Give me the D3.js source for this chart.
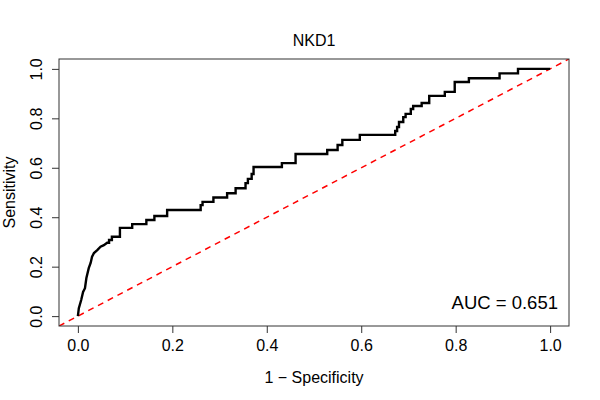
<!DOCTYPE html>
<html>
<head>
    <title>NKD1 ROC</title>
    <script src="https://d3js.org/d3.v7.min.js"></script>
    <style>
        body { margin: 0; background: #fff; }
        svg text { font-family: "Liberation Sans", Arial, sans-serif; }
    </style>
</head>
<body>
    <div id="chart"></div>

    <script>
        // ROC curve vertices
        const fpr = [0, 0.002, 0.007, 0.011, 0.015, 0.018, 0.023, 0.027, 0.030, 0.034, 0.041, 0.048, 0.055, 0.062,
            0.066, 0.066, 0.072, 0.072, 0.089, 0.089, 0.115, 0.115, 0.145, 0.145, 0.162, 0.162, 0.189, 0.189,
            0.260, 0.260, 0.264, 0.264, 0.287, 0.287, 0.316, 0.316, 0.334, 0.334, 0.355, 0.355, 0.360, 0.360,
            0.368, 0.368, 0.372, 0.372, 0.432, 0.432, 0.461, 0.461, 0.528, 0.528, 0.550, 0.550, 0.560, 0.560,
            0.597, 0.597, 0.672, 0.672, 0.676, 0.676, 0.680, 0.680, 0.689, 0.689, 0.694, 0.694, 0.705, 0.705,
            0.710, 0.710, 0.728, 0.728, 0.744, 0.744, 0.777, 0.777, 0.798, 0.798, 0.828, 0.828, 0.893, 0.893,
            0.932, 0.932, 1.0];
        const tpr = [0, 0.032, 0.065, 0.098, 0.113, 0.154, 0.194, 0.215, 0.240, 0.255, 0.267, 0.281, 0.287, 0.297,
            0.297, 0.308, 0.308, 0.321, 0.321, 0.357, 0.357, 0.372, 0.372, 0.389, 0.389, 0.405, 0.405, 0.429,
            0.429, 0.449, 0.449, 0.462, 0.462, 0.480, 0.480, 0.497, 0.497, 0.517, 0.517, 0.538, 0.538, 0.555,
            0.555, 0.575, 0.575, 0.603, 0.603, 0.619, 0.619, 0.656, 0.656, 0.672, 0.672, 0.692, 0.692, 0.713,
            0.713, 0.733, 0.733, 0.749, 0.749, 0.765, 0.765, 0.785, 0.785, 0.805, 0.805, 0.818, 0.818, 0.838,
            0.838, 0.850, 0.850, 0.862, 0.862, 0.891, 0.891, 0.907, 0.907, 0.947, 0.947, 0.962, 0.962, 0.982,
            0.982, 1.0, 1.0];
        const ticks = [0, 0.2, 0.4, 0.6, 0.8, 1.0];
        const title = 'NKD1';
        const aucLabel = 'AUC = 0.651';

        const W = 600, H = 400;
        const box = { left: 59, right: 569, top: 59, bottom: 326 };

        const svg = d3.select('#chart')
            .append('svg')
            .attr('width', W)
            .attr('height', H);

        const x = d3.scaleLinear().domain([-0.04, 1.04]).range([box.left, box.right]);
        const y = d3.scaleLinear().domain([-0.04, 1.04]).range([box.bottom, box.top]);

        svg.append('defs').append('clipPath').attr('id', 'clip')
            .append('rect')
            .attr('x', box.left).attr('y', box.top)
            .attr('width', box.right - box.left).attr('height', box.bottom - box.top);

        // diagonal reference line
        svg.append('line')
            .attr('clip-path', 'url(#clip)')
            .attr('x1', x(-0.04)).attr('y1', y(-0.04))
            .attr('x2', x(1.04)).attr('y2', y(1.04))
            .attr('stroke', '#ff0000')
            .attr('stroke-width', 1.5)
            .attr('stroke-dasharray', '6,5');

        const pts = fpr.map((d, i) => [d, tpr[i]]);
        const line = d3.line().x(d => x(d[0])).y(d => y(d[1]));

        svg.append('path')
            .datum(pts)
            .attr('d', line)
            .attr('fill', 'none')
            .attr('stroke', '#000')
            .attr('stroke-width', 2.4)
            .attr('stroke-linejoin', 'miter');

        // box
        svg.append('rect')
            .attr('x', box.left).attr('y', box.top)
            .attr('width', box.right - box.left).attr('height', box.bottom - box.top)
            .attr('fill', 'none')
            .attr('stroke', '#333')
            .attr('stroke-width', 1);

        const xAxis = svg.append('g')
            .attr('transform', `translate(0,${box.bottom})`)
            .call(d3.axisBottom(x).tickValues(ticks).tickFormat(d3.format('.1f')).tickSize(7).tickPadding(7));
        xAxis.select('.domain').remove();
        xAxis.selectAll('line').attr('stroke', '#333');
        xAxis.selectAll('text').attr('font-size', 16).attr('fill', '#000')
            .style('font-family', '"Liberation Sans", Arial, sans-serif');

        const yAxis = svg.append('g')
            .attr('transform', `translate(${box.left},0)`)
            .call(d3.axisLeft(y).tickValues(ticks).tickFormat(d3.format('.1f')).tickSize(7));
        yAxis.select('.domain').remove();
        yAxis.selectAll('line').attr('stroke', '#333');
        yAxis.selectAll('text')
            .attr('x', 0).attr('dy', '0.35em')
            .attr('transform', 'translate(-23,0) rotate(-90)')
            .attr('text-anchor', 'middle')
            .attr('font-size', 16).attr('fill', '#000')
            .style('font-family', '"Liberation Sans", Arial, sans-serif');

        svg.append('text')
            .attr('x', (box.left + box.right) / 2)
            .attr('y', 46)
            .attr('text-anchor', 'middle')
            .attr('font-size', 16)
            .text(title);

        svg.append('text')
            .attr('x', (x(0) + x(1)) / 2)
            .attr('y', 383)
            .attr('text-anchor', 'middle')
            .attr('font-size', 16)
            .text('1 \u2212 Specificity');

        svg.append('text')
            .attr('transform', `translate(15,${(box.top + box.bottom) / 2}) rotate(-90)`)
            .attr('text-anchor', 'middle')
            .attr('font-size', 16)
            .text('Sensitivity');

        svg.append('text')
            .attr('x', 558)
            .attr('y', 309)
            .attr('text-anchor', 'end')
            .attr('font-size', 18.5)
            .text(aucLabel);
    </script>
</body>
</html>
